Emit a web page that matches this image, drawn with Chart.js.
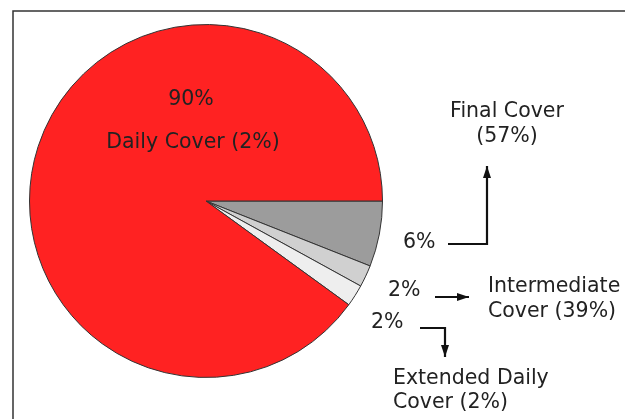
<!DOCTYPE html>
<html>
<head>
<meta charset="utf-8">
<script src="https://cdn.jsdelivr.net/npm/chart.js@4/dist/chart.umd.min.js"></script>
<style>
  html, body { margin: 0; padding: 0; background: #fff; }
  #wrap { width: 625px; height: 419px; position: relative; }
</style>
</head>
<body>
<div id="wrap"><canvas id="coverChart" width="625" height="419"></canvas></div>
<script>
var coverLabels = ['Final Cover', 'Intermediate Cover', 'Extended Daily Cover', 'Daily Cover'];
var coverValues = [6, 2, 2, 90];
var coverColors = ['#9c9c9c', '#d0d0d0', '#eeeeee', '#ff2222'];
var subShares = ['(57%)', '(39%)', '(2%)', '(2%)'];

var font = '20.5px "DejaVu Sans", Verdana, sans-serif';

function arrow(ctx, pts) {
  ctx.beginPath();
  ctx.moveTo(pts[0][0], pts[0][1]);
  for (var i = 1; i < pts.length; i++) ctx.lineTo(pts[i][0], pts[i][1]);
  ctx.stroke();
  // arrow head at last point
  var a = pts[pts.length - 2], b = pts[pts.length - 1];
  var ang = Math.atan2(b[1] - a[1], b[0] - a[0]);
  ctx.beginPath();
  ctx.moveTo(b[0], b[1]);
  ctx.lineTo(b[0] - 12 * Math.cos(ang) + 4 * Math.sin(ang), b[1] - 12 * Math.sin(ang) - 4 * Math.cos(ang));
  ctx.lineTo(b[0] - 12 * Math.cos(ang) - 4 * Math.sin(ang), b[1] - 12 * Math.sin(ang) + 4 * Math.cos(ang));
  ctx.closePath();
  ctx.fill();
}

var frameAndLabels = {
  id: 'frameAndLabels',
  beforeDraw: function(chart) {
    var ctx = chart.ctx;
    ctx.save();
    ctx.strokeStyle = '#333';
    ctx.lineWidth = 1.5;
    ctx.beginPath();
    ctx.moveTo(13, 419);
    ctx.lineTo(13, 11);
    ctx.lineTo(625, 11);
    ctx.stroke();
    ctx.restore();
  },
  afterDraw: function(chart) {
    var ctx = chart.ctx;
    ctx.save();
    ctx.font = font;
    ctx.fillStyle = '#222';
    ctx.textBaseline = 'middle';

    // inside the red slice
    ctx.textAlign = 'center';
    ctx.fillText(coverValues[3] + '%', 191, 100);
    ctx.fillText('Daily Cover ' + subShares[3], 193, 143);

    // Final Cover
    ctx.fillText('Final Cover', 507, 112);
    ctx.fillText(subShares[0], 507, 137);

    ctx.textAlign = 'left';
    ctx.fillText(coverValues[0] + '%', 403, 243);
    ctx.fillText(coverValues[1] + '%', 388, 291);
    ctx.fillText(coverValues[2] + '%', 371, 323);
    ctx.fillText('Intermediate', 488, 287);
    ctx.fillText('Cover ' + subShares[1], 488, 312);
    ctx.fillText('Extended Daily', 393, 379);
    ctx.fillText('Cover ' + subShares[2], 393, 403);

    ctx.strokeStyle = '#111';
    ctx.fillStyle = '#111';
    ctx.lineWidth = 2.2;
    arrow(ctx, [[448, 244], [487, 244], [487, 166]]);
    arrow(ctx, [[435, 297], [469, 297]]);
    arrow(ctx, [[420, 328], [445, 328], [445, 357]]);
    ctx.restore();
  }
};

new Chart(document.getElementById('coverChart').getContext('2d'), {
  type: 'pie',
  data: {
    labels: coverLabels,
    datasets: [{
      data: coverValues,
      backgroundColor: coverColors,
      borderColor: '#333',
      borderWidth: 1
    }]
  },
  options: {
    responsive: false,
    animation: false,
    rotation: 90,
    layout: { padding: { left: 28, top: 24, right: 241, bottom: 41 } },
    plugins: {
      legend: { display: false },
      tooltip: { enabled: false }
    }
  },
  plugins: [frameAndLabels]
});
</script>
</body>
</html>
